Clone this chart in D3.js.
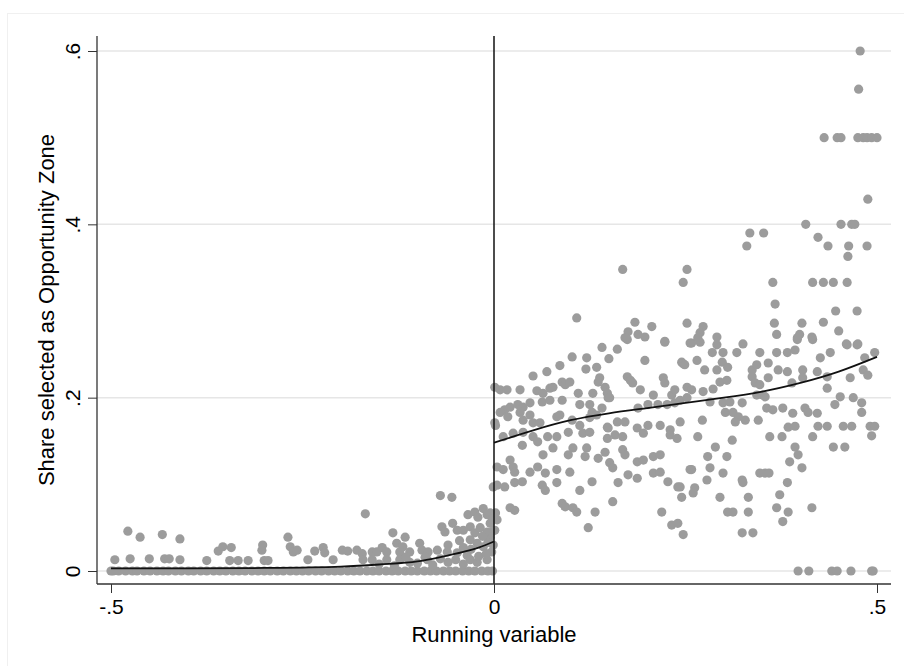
<!DOCTYPE html>
<html>
<head>
<meta charset="utf-8">
<script src="https://cdn.jsdelivr.net/npm/d3@7/dist/d3.min.js"></script>
<style>
html,body{margin:0;padding:0;background:#fff;}
svg{display:block;font-family:"Liberation Sans",Arial,sans-serif;}
</style>
</head>
<body>
<svg id="chart" width="904" height="666"></svg>
<script>
// ---------- DATA ----------
const xTicks = [-0.5, 0, 0.5];
const xTickLabels = ["-.5", "0", ".5"];
const yTicks = [0, 0.2, 0.4, 0.6];
const yTickLabels = ["0", ".2", ".4", ".6"];
const xTitle = "Running variable";
const yTitle = "Share selected as Opportunity Zone";
const cutoff = 0;

// left of cutoff: many observations exactly at 0
const leftZeroX = [-0.500,-0.497,-0.490,-0.481,-0.472,-0.466,-0.457,-0.449,-0.440,-0.432,-0.425,-0.416,-0.408,-0.399,-0.392,-0.383,-0.375,-0.366,-0.358,-0.350,-0.341,-0.333,-0.325,-0.316,-0.308,-0.300,-0.292,-0.283,-0.275,-0.266,-0.258,-0.250,-0.242,-0.233,-0.225,-0.216,-0.208,-0.200,-0.191,-0.183,-0.175,-0.166,-0.158,-0.150,-0.141,-0.133,-0.125,-0.116,-0.108,-0.100,-0.091,-0.083,-0.075,-0.066,-0.058,-0.050,-0.041,-0.033,-0.025,-0.016,-0.008,-0.002];

// left of cutoff: observations above 0
const leftX = [-0.478,-0.462,-0.433,-0.410,-0.495,-0.475,-0.450,-0.430,-0.424,-0.410,-0.375,-0.360,-0.354,-0.343,-0.345,-0.334,-0.321,-0.302,-0.303,-0.300,-0.295,-0.269,-0.266,-0.262,-0.257,-0.243,-0.234,-0.223,-0.221,-0.210,-0.198,-0.191,-0.179,-0.172,-0.168,-0.159,-0.153,-0.146,-0.140,-0.171,-0.159,-0.140,-0.132,-0.127,-0.116,-0.119,-0.123,-0.110,-0.097,-0.094,-0.086,-0.123,-0.110,-0.087,-0.070,-0.055,-0.068,-0.064,-0.054,-0.048,-0.074,-0.061,-0.048,-0.040,-0.035,-0.034,-0.025,-0.021,-0.014,-0.009,-0.005,-0.040,-0.031,-0.025,-0.018,-0.009,-0.005,-0.031,-0.022,-0.014,-0.008,-0.031,-0.022,-0.009,-0.003,-0.001,-0.150,-0.130,-0.100,-0.080,-0.060,-0.050,-0.040,-0.020,-0.010,-0.115,-0.090,-0.070,-0.060,-0.045,-0.030,-0.015,-0.005,-0.002,-0.003,-0.001];
const leftY = [0.046,0.039,0.042,0.037,0.013,0.014,0.014,0.014,0.014,0.013,0.012,0.023,0.028,0.027,0.012,0.012,0.012,0.030,0.024,0.012,0.012,0.039,0.028,0.022,0.024,0.013,0.023,0.027,0.021,0.013,0.024,0.023,0.024,0.020,0.066,0.022,0.022,0.027,0.022,0.013,0.013,0.013,0.044,0.032,0.039,0.028,0.022,0.022,0.032,0.024,0.022,0.013,0.010,0.013,0.087,0.085,0.051,0.045,0.055,0.047,0.024,0.022,0.021,0.027,0.018,0.065,0.068,0.062,0.072,0.065,0.067,0.047,0.051,0.044,0.050,0.045,0.039,0.036,0.032,0.028,0.033,0.013,0.010,0.013,0.022,0.097,0.008,0.006,0.009,0.007,0.010,0.013,0.008,0.017,0.020,0.016,0.016,0.014,0.030,0.035,0.025,0.040,0.055,0.060,0.045,0.030];

// right of cutoff
const rightX = [0.001,0.008,0.017,0.034,0.051,0.069,0.086,0.102,0.121,0.120,0.134,0.141,0.161,0.150,0.174,0.197,0.223,0.245,0.247,0.056,0.064,0.073,0.077,0.089,0.093,0.099,0.110,0.129,0.136,0.138,0.145,0.148,0.149,0.174,0.178,0.181,0.191,0.208,0.221,0.223,0.232,0.236,0.243,0.252,
0.014,0.021,0.031,0.038,0.047,0.063,0.073,0.089,0.112,0.125,0.141,0.151,0.188,0.201,0.214,0.226,0.236,
0.008,0.018,0.034,0.038,0.047,0.051,0.060,0.082,0.086,0.102,0.112,0.125,0.128,0.134,0.148,0.161,0.171,0.187,0.201,0.217,0.230,0.243,
0.001,0.002,0.012,0.025,0.038,0.051,0.057,0.070,0.082,0.097,0.116,0.125,0.149,0.158,0.168,0.148,0.195,0.230,0.239,
0.037,0.064,0.077,0.097,0.103,0.121,0.119,0.136,0.145,0.168,0.171,0.187,0.195,0.208,0.217,
0.004,0.012,0.021,0.025,0.027,0.047,0.057,0.067,0.082,0.099,0.151,0.155,0.175,0.208,0.217,0.256,
0.004,0.014,0.027,0.037,0.063,0.067,0.082,0.112,0.128,0.162,0.187,0.227,0.240,0.245,
0.002,0.021,0.027,0.089,0.093,0.103,0.108,0.132,0.155,0.219,
0.123,0.232,0.240,0.247,0.001,0.004,
0.168,0.252,0.247,0.108,0.184,0.206,0.175,0.188,0.197,0.171,0.223,0.252,
0.258,0.269,0.291,0.325,0.396,0.416,0.461,0.474,0.285,0.299,0.317,0.347,0.369,0.383,0.393,0.426,0.439,0.484,0.497,
0.249,0.265,0.275,0.291,0.298,0.305,0.337,0.343,0.358,0.371,0.383,0.403,0.422,0.435,0.465,0.482,0.488,
0.252,0.258,0.273,0.286,0.295,0.304,0.337,0.341,0.347,0.358,0.351,0.389,0.403,0.435,0.452,0.469,0.480,
0.282,0.299,0.308,0.324,0.343,0.354,0.302,0.312,0.319,0.328,0.315,0.345,0.356,0.364,0.377,0.390,0.406,0.410,0.422,0.445,0.480,
0.272,0.384,0.393,0.423,0.435,0.456,0.467,0.491,0.497,
0.266,0.311,0.360,0.376,0.416,0.493,0.289,0.393,0.397,0.443,0.458,0.279,0.304,0.386,0.402,
0.258,0.282,0.299,0.347,0.354,0.359,0.243,0.262,0.260,0.278,0.324,0.325,0.383,0.295,0.332,0.373,
0.369,0.415,0.305,0.312,0.332,0.384,0.377,0.324,0.338,
0.397,0.411,0.441,0.448,0.466,0.493,0.495,
0.478,0.476,0.431,0.448,0.453,0.475,0.482,0.487,0.493,0.500,0.488,0.407,0.453,0.467,0.471,
0.334,0.352,0.330,0.423,0.436,0.463,0.462,0.487,
0.364,0.416,0.430,0.443,0.461,0.367,0.273,0.269,0.266,0.256,0.291,
0.366,0.369,0.402,0.399,0.396,0.415,0.430,0.446,0.450,0.474,0.460,0.475];
const rightY = [0.212,0.209,0.209,0.209,0.225,0.230,0.237,0.247,0.246,0.233,0.235,0.258,0.256,0.245,0.267,0.243,0.264,0.241,0.239,0.208,0.205,0.211,0.212,0.218,0.215,0.218,0.205,0.205,0.218,0.223,0.212,0.205,0.200,0.224,0.220,0.217,0.209,0.203,0.223,0.217,0.203,0.209,0.197,0.200,
0.186,0.189,0.192,0.189,0.194,0.195,0.197,0.197,0.192,0.192,0.188,0.200,0.188,0.192,0.192,0.192,0.194,
0.183,0.178,0.183,0.174,0.180,0.171,0.171,0.178,0.180,0.174,0.168,0.177,0.183,0.180,0.166,0.172,0.172,0.165,0.168,0.168,0.163,0.172,
0.171,0.168,0.155,0.159,0.160,0.155,0.149,0.155,0.155,0.160,0.159,0.160,0.165,0.157,0.155,0.153,0.159,0.157,0.153,
0.145,0.134,0.142,0.134,0.142,0.142,0.132,0.130,0.137,0.140,0.134,0.126,0.128,0.132,0.134,
0.120,0.117,0.128,0.120,0.114,0.114,0.120,0.113,0.117,0.114,0.125,0.119,0.111,0.113,0.114,0.117,
0.099,0.097,0.102,0.103,0.099,0.093,0.102,0.093,0.103,0.102,0.107,0.103,0.097,0.085,
0.067,0.073,0.070,0.078,0.074,0.073,0.068,0.068,0.080,0.068,
0.050,0.053,0.055,0.042,0.047,0.059,
0.348,0.348,0.333,0.292,0.287,0.282,0.276,0.273,0.270,0.269,0.265,0.286,
0.263,0.264,0.261,0.262,0.267,0.267,0.261,0.261,0.252,0.252,0.252,0.252,0.252,0.252,0.255,0.246,0.252,0.246,0.252,
0.238,0.243,0.232,0.232,0.241,0.235,0.232,0.238,0.240,0.232,0.230,0.232,0.230,0.224,0.223,0.232,0.226,
0.212,0.209,0.207,0.210,0.218,0.220,0.224,0.217,0.215,0.223,0.203,0.217,0.223,0.211,0.201,0.200,0.194,
0.195,0.194,0.195,0.194,0.203,0.201,0.183,0.183,0.178,0.174,0.172,0.174,0.188,0.186,0.188,0.182,0.188,0.183,0.182,0.192,0.183,
0.174,0.166,0.167,0.167,0.167,0.167,0.167,0.167,0.167,
0.155,0.151,0.155,0.155,0.155,0.156,0.143,0.143,0.134,0.143,0.143,0.132,0.132,0.126,0.119,
0.117,0.119,0.113,0.113,0.113,0.113,0.097,0.096,0.090,0.105,0.105,0.102,0.102,0.085,0.085,0.088,
0.073,0.073,0.068,0.068,0.068,0.068,0.057,0.044,0.044,
0,0,0,0,0,0,0,
0.600,0.556,0.500,0.500,0.500,0.500,0.500,0.500,0.500,0.500,0.429,0.400,0.400,0.400,0.400,
0.390,0.390,0.375,0.385,0.375,0.375,0.363,0.375,
0.333,0.333,0.333,0.333,0.333,0.308,0.282,0.275,0.269,0.263,0.270,
0.286,0.273,0.286,0.273,0.269,0.270,0.287,0.300,0.277,0.300,0.262,0.262];

// fitted curves
const fitLeftX = [-0.5,-0.4,-0.3,-0.25,-0.2,-0.15,-0.1,-0.07,-0.04,-0.02,0];
const fitLeftY = [0.003,0.003,0.0035,0.004,0.005,0.0075,0.011,0.016,0.022,0.027,0.034];
const fitRightX = [0,0.05,0.1,0.15,0.2,0.25,0.3,0.35,0.4,0.45,0.5];
const fitRightY = [0.148,0.162,0.174,0.182,0.188,0.194,0.200,0.207,0.217,0.230,0.247];

// ---------- DRAW ----------
const svg = d3.select("#chart");
const plot = {left: 97, right: 891, top: 36, bottom: 584};
const x = d3.scaleLinear().domain([-0.5, 0.5]).range([111, 877]);
const y = d3.scaleLinear().domain([0, 0.6]).range([571, 51]);

// faint outer frame
svg.append("rect").attr("x", 7.5).attr("y", 13.5).attr("width", 904).attr("height", 680)
  .attr("fill", "none").attr("stroke", "#f0f0f0").attr("stroke-width", 1);

// gridlines
svg.append("g").selectAll("line").data(yTicks).join("line")
  .attr("x1", plot.left).attr("x2", plot.right)
  .attr("y1", d => y(d)).attr("y2", d => y(d))
  .attr("stroke", "#e6e6e6").attr("stroke-width", 1.5);

// points
const pts = [];
leftZeroX.forEach(v => pts.push([v, 0]));
leftX.forEach((v, i) => pts.push([v, leftY[i]]));
rightX.forEach((v, i) => pts.push([v, rightY[i]]));
svg.append("g").selectAll("circle").data(pts).join("circle")
  .attr("cx", d => x(d[0])).attr("cy", d => y(d[1])).attr("r", 4.6)
  .attr("fill", "#9c9c9c");

// cutoff line
svg.append("line").attr("x1", x(cutoff)).attr("x2", x(cutoff))
  .attr("y1", plot.top).attr("y2", plot.bottom)
  .attr("stroke", "#111").attr("stroke-width", 1.5);

// fit lines
const line = d3.line().x(d => x(d[0])).y(d => y(d[1])).curve(d3.curveNatural);
svg.append("path").attr("d", line.curve(d3.curveMonotoneX)(fitLeftX.map((v, i) => [v, fitLeftY[i]])))
  .attr("fill", "none").attr("stroke", "#111").attr("stroke-width", 1.8);
svg.append("path").attr("d", line.curve(d3.curveNatural)(fitRightX.map((v, i) => [v, fitRightY[i]])))
  .attr("fill", "none").attr("stroke", "#111").attr("stroke-width", 1.8);

// axes
const xAxis = d3.axisBottom(x).tickValues(xTicks).tickSize(9).tickPadding(5)
  .tickFormat((d, i) => xTickLabels[i]);
const gx = svg.append("g").attr("transform", `translate(0,${plot.bottom})`).call(xAxis);
gx.select(".domain").attr("d", `M${plot.left},0H${plot.right}`);
gx.selectAll("line").attr("stroke", "#333");
gx.select(".domain").attr("stroke", "#333").attr("stroke-width", 1.3);
gx.selectAll("text").attr("font-size", 21).attr("fill", "#000")
  .attr("font-family", "Liberation Sans, Arial, sans-serif").attr("dy", "0.78em");

const yAxis = d3.axisLeft(y).tickValues(yTicks).tickSize(9).tickFormat((d, i) => yTickLabels[i]);
const gy = svg.append("g").attr("transform", `translate(${plot.left},0)`).call(yAxis);
gy.select(".domain").attr("d", `M0,${plot.top}V${plot.bottom}`).attr("stroke", "#333").attr("stroke-width", 1.3);
gy.selectAll("line").attr("stroke", "#333");
gy.selectAll(".tick text")
  .attr("x", null).attr("dy", null)
  .attr("transform", "translate(-17,0) rotate(-90)")
  .attr("text-anchor", "middle")
  .attr("font-size", 21).attr("fill", "#000")
  .attr("font-family", "Liberation Sans, Arial, sans-serif");

// titles
svg.append("text").attr("x", x(0)).attr("y", 642).attr("text-anchor", "middle")
  .attr("font-size", 22).attr("fill", "#000").text(xTitle);
svg.append("text").attr("transform", "translate(54,310) rotate(-90)").attr("text-anchor", "middle")
  .attr("font-size", 22).attr("fill", "#000").text(yTitle);
</script>
</body>
</html>
